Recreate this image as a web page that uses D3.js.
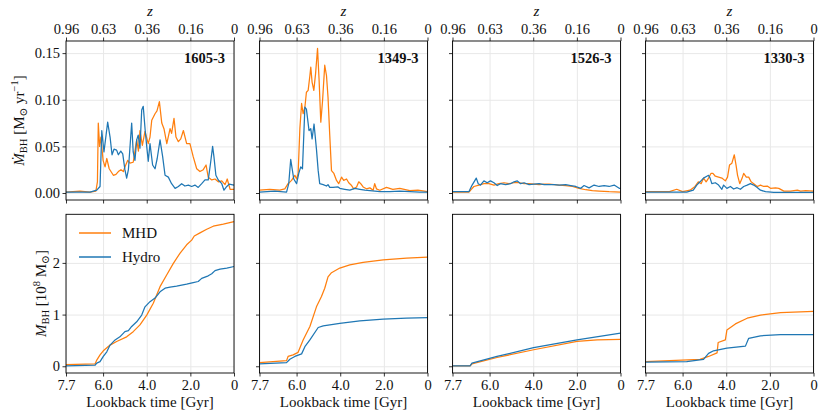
<!DOCTYPE html>
<html>
<head>
<meta charset="utf-8">
<script src="https://cdn.jsdelivr.net/npm/d3@7"></script>
<style>
  body { margin: 0; background: #fff; }
  svg text { font-family: "Liberation Serif", "DejaVu Serif", serif; fill: #111; }
</style>
</head>
<body>
<svg id="chart" width="830" height="415"></svg>
<script>
// ---- data ----
const haloNames = ['1605-3', '1349-3', '1526-3', '1330-3'];
const lookbackTicks = [7.7, 6, 4, 2, 0];
const lookbackLabels = ['7.7', '6.0', '4.0', '2.0', '0'];
const zLabels = ['0.96', '0.63', '0.36', '0.16', '0'];
const mdotTicks = [0, 0.05, 0.10, 0.15];
const mdotLabels = ['0.00', '0.05', '0.10', '0.15'];
const massTicks = [0, 1, 2];
const seriesNames = ['MHD', 'Hydro'];

// accretion rate [Msun/yr] as [lookback Gyr, value]
const mdot1605MHD = [[7.70,0.001],[7.06,0.002],[6.60,0.001],[6.33,0.002],[6.26,0.012],[6.22,0.075],[6.16,0.050],[6.10,0.060],[6.00,0.035],[5.91,0.028],[5.83,0.037],[5.72,0.026],[5.53,0.019],[5.41,0.020],[5.30,0.023],[5.18,0.025],[5.07,0.023],[5.00,0.028],[4.87,0.035],[4.77,0.032],[4.62,0.033],[4.46,0.057],[4.38,0.045],[4.31,0.067],[4.20,0.051],[4.08,0.066],[3.93,0.053],[3.85,0.060],[3.77,0.078],[3.62,0.085],[3.53,0.088],[3.42,0.098],[3.31,0.075],[3.21,0.069],[3.08,0.053],[2.93,0.069],[2.86,0.064],[2.75,0.080],[2.66,0.060],[2.55,0.055],[2.44,0.058],[2.32,0.067],[2.17,0.053],[2.02,0.053],[1.87,0.039],[1.71,0.026],[1.56,0.023],[1.41,0.025],[1.28,0.030],[1.18,0.017],[1.02,0.014],[0.87,0.015],[0.72,0.012],[0.56,0.013],[0.41,0.009],[0.31,0.015],[0.18,0.004],[0.00,0.004]];
const mdot1605Hydro = [[7.70,0.001],[6.60,0.001],[6.29,0.003],[6.14,0.007],[6.06,0.067],[5.96,0.044],[5.79,0.076],[5.68,0.060],[5.59,0.041],[5.50,0.047],[5.38,0.046],[5.30,0.041],[5.19,0.045],[5.10,0.042],[5.00,0.025],[4.92,0.016],[4.84,0.025],[4.69,0.075],[4.62,0.044],[4.54,0.035],[4.46,0.057],[4.39,0.062],[4.31,0.048],[4.23,0.089],[4.16,0.093],[4.07,0.067],[4.00,0.050],[3.93,0.034],[3.85,0.053],[3.73,0.030],[3.62,0.026],[3.52,0.037],[3.39,0.057],[3.27,0.039],[3.16,0.019],[3.01,0.017],[2.86,0.010],[2.70,0.005],[2.55,0.007],[2.40,0.010],[2.25,0.0075],[2.09,0.0085],[1.94,0.007],[1.79,0.0085],[1.64,0.006],[1.48,0.010],[1.33,0.014],[1.18,0.014],[1.07,0.033],[0.98,0.050],[0.92,0.039],[0.83,0.019],[0.72,0.014],[0.56,0.010],[0.46,0.003],[0.33,0.007],[0.22,0.0095],[0.00,0.0085]];
const mdot1349MHD = [[7.70,0.003],[7.23,0.004],[6.77,0.003],[6.54,0.0045],[6.39,0.010],[6.23,0.0135],[6.08,0.019],[6.00,0.015],[5.93,0.021],[5.85,0.069],[5.77,0.096],[5.70,0.085],[5.62,0.092],[5.55,0.108],[5.47,0.110],[5.39,0.126],[5.35,0.135],[5.29,0.119],[5.21,0.110],[5.13,0.128],[5.04,0.155],[4.97,0.122],[4.89,0.076],[4.81,0.099],[4.71,0.137],[4.63,0.126],[4.56,0.103],[4.48,0.062],[4.40,0.024],[4.29,0.021],[4.17,0.0135],[4.07,0.010],[3.94,0.017],[3.84,0.0135],[3.71,0.015],[3.61,0.011],[3.48,0.008],[3.38,0.0045],[3.25,0.0065],[3.15,0.012],[3.06,0.010],[2.95,0.0065],[2.80,0.0045],[2.64,0.0055],[2.49,0.003],[2.42,0.010],[2.34,0.0045],[2.19,0.003],[1.88,0.006],[1.59,0.004],[1.27,0.005],[0.81,0.0025],[0.44,0.003],[0.00,0.0015]];
const mdot1349Hydro = [[7.70,0.001],[7.00,0.002],[6.46,0.001],[6.36,0.010],[6.27,0.036],[6.13,0.015],[6.00,0.010],[5.90,0.021],[5.81,0.028],[5.73,0.026],[5.62,0.092],[5.55,0.090],[5.43,0.067],[5.35,0.069],[5.29,0.058],[5.20,0.074],[5.09,0.047],[5.01,0.024],[4.94,0.010],[4.78,0.009],[4.63,0.0075],[4.56,0.009],[4.48,0.006],[4.33,0.006],[4.10,0.0065],[4.02,0.005],[3.79,0.004],[3.56,0.003],[3.33,0.005],[3.10,0.004],[2.87,0.003],[2.64,0.0025],[2.18,0.0015],[1.73,0.0015],[1.27,0.002],[0.81,0.0015],[0.35,0.001],[0.00,0.001]];
const mdot1526MHD = [[7.70,0.001],[6.95,0.001],[6.87,0.003],[6.72,0.007],[6.49,0.0085],[6.26,0.010],[6.03,0.010],[5.80,0.0085],[5.57,0.010],[5.34,0.011],[5.11,0.010],[4.88,0.011],[4.65,0.011],[4.42,0.010],[4.19,0.010],[3.96,0.0095],[3.73,0.009],[3.50,0.0095],[3.27,0.0095],[3.04,0.009],[2.81,0.0085],[2.51,0.008],[2.20,0.007],[1.90,0.005],[1.59,0.0035],[1.29,0.0025],[0.98,0.002],[0.52,0.0014],[0.00,0.001]];
const mdot1526Hydro = [[7.70,0.0014],[6.95,0.0014],[6.80,0.0085],[6.61,0.016],[6.52,0.010],[6.42,0.0085],[6.26,0.013],[6.11,0.011],[5.96,0.013],[5.80,0.011],[5.65,0.008],[5.50,0.010],[5.27,0.009],[5.04,0.010],[4.88,0.012],[4.73,0.013],[4.58,0.010],[4.42,0.011],[4.19,0.009],[3.96,0.0095],[3.73,0.010],[3.50,0.009],[3.27,0.009],[3.04,0.009],[2.81,0.0085],[2.51,0.009],[2.28,0.008],[2.05,0.007],[1.82,0.005],[1.67,0.008],[1.44,0.0055],[1.21,0.0085],[0.98,0.007],[0.75,0.008],[0.52,0.007],[0.29,0.0085],[0.06,0.005],[0.00,0.005]];
const mdot1330MHD = [[7.70,0.0014],[6.60,0.0014],[6.27,0.004],[6.00,0.0015],[5.66,0.003],[5.43,0.007],[5.28,0.012],[5.15,0.010],[5.04,0.016],[4.92,0.012],[4.81,0.016],[4.70,0.021],[4.61,0.021],[4.50,0.018],[4.35,0.017],[4.20,0.016],[4.04,0.013],[3.94,0.017],[3.85,0.030],[3.74,0.032],[3.63,0.041],[3.55,0.030],[3.48,0.019],[3.38,0.010],[3.27,0.016],[3.20,0.021],[3.08,0.017],[2.97,0.017],[2.86,0.012],[2.74,0.010],[2.58,0.007],[2.43,0.0085],[2.28,0.007],[2.12,0.0075],[1.97,0.005],[1.74,0.0055],[1.59,0.005],[1.36,0.002],[1.05,0.002],[0.74,0.003],[0.59,0.002],[0.36,0.0025],[0.00,0.002]];
const mdot1330Hydro = [[7.70,0.001],[5.81,0.001],[5.51,0.003],[5.35,0.0085],[5.20,0.012],[5.04,0.016],[4.89,0.018],[4.81,0.019],[4.74,0.016],[4.66,0.010],[4.50,0.011],[4.35,0.0085],[4.20,0.004],[4.12,0.0085],[3.97,0.005],[3.81,0.007],[3.66,0.0043],[3.50,0.0057],[3.35,0.004],[3.20,0.007],[3.04,0.0085],[2.89,0.010],[2.74,0.0085],[2.58,0.006],[2.43,0.003],[2.20,0.0014],[1.82,0.0008],[1.05,0.0008],[0.00,0.0008]];

// black hole mass [1e8 Msun] as [lookback Gyr, value]
const mass1605MHD = [[7.70,0.03],[6.37,0.045],[6.29,0.12],[6.14,0.22],[5.99,0.30],[5.68,0.41],[5.38,0.48],[4.92,0.57],[4.62,0.67],[4.31,0.80],[4.00,0.99],[3.70,1.22],[3.39,1.54],[3.08,1.77],[2.78,1.99],[2.47,2.19],[2.17,2.35],[1.94,2.44],[1.82,2.52],[1.56,2.58],[1.25,2.65],[0.95,2.71],[0.49,2.75],[0.00,2.80]];
const mass1605Hydro = [[7.70,0.01],[6.37,0.02],[6.29,0.06],[6.14,0.09],[5.99,0.19],[5.83,0.28],[5.68,0.41],[5.45,0.51],[5.23,0.57],[5.00,0.67],[4.84,0.69],[4.69,0.77],[4.46,0.86],[4.23,0.99],[4.08,1.15],[3.85,1.25],[3.62,1.32],[3.39,1.44],[3.16,1.51],[2.93,1.53],[2.63,1.55],[2.17,1.59],[1.87,1.62],[1.64,1.64],[1.48,1.70],[1.18,1.75],[1.02,1.79],[0.87,1.85],[0.64,1.88],[0.33,1.90],[0.00,1.93]];
const mass1349MHD = [[7.70,0.07],[6.46,0.11],[6.39,0.19],[6.16,0.22],[5.93,0.27],[5.70,0.51],[5.39,0.77],[5.09,1.15],[4.86,1.35],[4.71,1.51],[4.56,1.73],[4.40,1.81],[4.02,1.90],[3.56,1.96],[2.95,2.01],[2.03,2.06],[0.96,2.09],[0.00,2.11]];
const mass1349Hydro = [[7.70,0.045],[6.46,0.07],[6.31,0.135],[6.08,0.19],[5.77,0.24],[5.62,0.38],[5.39,0.51],[5.01,0.75],[4.78,0.78],[4.02,0.83],[3.10,0.88],[2.03,0.91],[0.96,0.93],[0.00,0.94]];
const mass1526MHD = [[7.70,0.01],[6.89,0.01],[6.81,0.045],[5.66,0.17],[3.98,0.32],[1.99,0.48],[1.07,0.51],[0.00,0.52]];
const mass1526Hydro = [[7.70,0.01],[6.89,0.01],[6.81,0.06],[5.66,0.19],[3.98,0.36],[1.99,0.51],[0.00,0.64]];
const mass1330MHD = [[7.70,0.09],[5.20,0.135],[4.81,0.19],[4.42,0.26],[4.37,0.46],[4.04,0.51],[3.97,0.70],[3.58,0.82],[3.04,0.93],[2.43,0.99],[1.51,1.04],[0.00,1.06]];
const mass1330Hydro = [[7.70,0.08],[5.81,0.09],[5.04,0.135],[4.81,0.25],[4.58,0.30],[3.97,0.35],[3.12,0.39],[2.97,0.54],[2.43,0.59],[1.51,0.61],[0.00,0.61]];

const mdotMHD = [mdot1605MHD, mdot1349MHD, mdot1526MHD, mdot1330MHD];
const mdotHydro = [mdot1605Hydro, mdot1349Hydro, mdot1526Hydro, mdot1330Hydro];
const massMHD = [mass1605MHD, mass1349MHD, mass1526MHD, mass1330MHD];
const massHydro = [mass1605Hydro, mass1349Hydro, mass1526Hydro, mass1330Hydro];

// ---- layout ----
const svg = d3.select('#chart');
const colLeft = [66, 259.5, 452.5, 645.5];
const W = 168;
const rows = [
  {top: 41, bottom: 200, domain: [-0.0075, 0.163], ticks: mdotTicks, labels: mdotLabels, mhd: mdotMHD, hydro: mdotHydro},
  {top: 214.3, bottom: 373, domain: [-0.13, 2.94], ticks: massTicks, labels: massTicks.map(String), mhd: massMHD, hydro: massHydro}
];
const colors = {MHD: '#ff7f0e', Hydro: '#1f77b4'};
const gridColor = '#e8e8e8';
const tickFont = 14.5;

function styleAxis(g, showLabels){
  g.select('.domain').remove();
  g.selectAll('.tick line').attr('stroke', '#000').attr('stroke-width', 0.8);
  g.selectAll('.tick text').attr('font-size', tickFont).attr('fill', '#111')
    .attr('font-family', '"Liberation Serif", "DejaVu Serif", serif');
  if(!showLabels) g.selectAll('.tick text').remove();
}

function styleGrid(g){
  g.select('.domain').remove();
  g.selectAll('.tick text').remove();
  g.selectAll('line').attr('stroke', gridColor).attr('stroke-width', 1);
}

colLeft.forEach((left, i) => {
  const x = d3.scaleLinear().domain([7.7, 0]).range([left, left + W]);

  rows.forEach((r, ri) => {
    const y = d3.scaleLinear().domain(r.domain).range([r.bottom, r.top]);
    const h = r.bottom - r.top;
    const g = svg.append('g');

    // grid
    styleGrid(g.append('g').attr('transform', `translate(0,${r.bottom})`)
      .call(d3.axisBottom(x).tickValues(lookbackTicks).tickSize(-h)));
    styleGrid(g.append('g').attr('transform', `translate(${left},0)`)
      .call(d3.axisLeft(y).tickValues(r.ticks).tickSize(-W)));

    // lines: MHD first, Hydro on top
    const line = d3.line().x(d => x(d[0])).y(d => y(d[1]));
    g.append('path').datum(r.mhd[i]).attr('d', line)
      .attr('fill', 'none').attr('stroke', colors.MHD).attr('stroke-width', 1.25).attr('stroke-linejoin', 'round');
    g.append('path').datum(r.hydro[i]).attr('d', line)
      .attr('fill', 'none').attr('stroke', colors.Hydro).attr('stroke-width', 1.25).attr('stroke-linejoin', 'round');

    // spines
    g.append('rect').attr('x', left).attr('y', r.top).attr('width', W).attr('height', h)
      .attr('fill', 'none').attr('stroke', '#000').attr('stroke-width', 0.9);

    // left axis (labels only in first column)
    const ay = g.append('g').attr('transform', `translate(${left},0)`)
      .call(d3.axisLeft(y).tickValues(r.ticks).tickSize(3.5).tickPadding(2.5)
        .tickFormat((d, j) => r.labels[j]));
    styleAxis(ay, i === 0);

    // bottom axis
    const ab = g.append('g').attr('transform', `translate(0,${r.bottom})`)
      .call(d3.axisBottom(x).tickValues(lookbackTicks).tickSize(3.5).tickPadding(3)
        .tickFormat((d, j) => lookbackLabels[j]));
    styleAxis(ab, ri === 1);

    if(ri === 0){
      // redshift axis on top
      const at = g.append('g').attr('transform', `translate(0,${r.top})`)
        .call(d3.axisTop(x).tickValues(lookbackTicks).tickSize(3.5).tickPadding(3.5)
          .tickFormat((d, j) => zLabels[j]));
      styleAxis(at, true);
      g.append('text').attr('x', left + W / 2).attr('y', 16).attr('text-anchor', 'middle')
        .attr('font-size', 15).attr('font-style', 'italic').text('z');
      g.append('text').attr('x', left + W - 9).attr('y', 63).attr('text-anchor', 'end')
        .attr('font-size', 14.5).attr('font-weight', 'bold').text(haloNames[i]);
    } else {
      g.append('text').attr('x', left + W / 2).attr('y', 406.5).attr('text-anchor', 'middle')
        .attr('font-size', 15).text('Lookback time [Gyr]');
    }
  });
});

// y labels
const yl1 = svg.append('text').attr('transform', 'translate(24,120.5) rotate(-90)')
  .attr('text-anchor', 'middle').attr('font-size', 15);
yl1.append('tspan').attr('font-style', 'italic').text('M\u0307');
yl1.append('tspan').attr('font-size', 10.5).attr('dy', 3).text('BH');
yl1.append('tspan').attr('dy', -3).text(' [M');
yl1.append('tspan').attr('font-size', 10.5).attr('dy', 3).text('\u2299');
yl1.append('tspan').attr('dy', -3).text(' yr');
yl1.append('tspan').attr('font-size', 10.5).attr('dy', -6).text('\u22121');
yl1.append('tspan').attr('dy', 6).text(']');

const yl2 = svg.append('text').attr('transform', 'translate(46,293.6) rotate(-90)')
  .attr('text-anchor', 'middle').attr('font-size', 15);
yl2.append('tspan').attr('font-style', 'italic').text('M');
yl2.append('tspan').attr('font-size', 10.5).attr('dy', 3).text('BH');
yl2.append('tspan').attr('dy', -3).text(' [10');
yl2.append('tspan').attr('font-size', 10.5).attr('dy', -6).text('8');
yl2.append('tspan').attr('dy', 6).text(' M');
yl2.append('tspan').attr('font-size', 10.5).attr('dy', 3).text('\u2299');
yl2.append('tspan').attr('dy', -3).text(']');

// legend in first mass panel
const legend = svg.append('g');
seriesNames.forEach((s, k) => {
  const ly = 233 + k * 24;
  legend.append('line').attr('x1', 79).attr('x2', 111).attr('y1', ly).attr('y2', ly)
    .attr('stroke', colors[s]).attr('stroke-width', 1.5);
  legend.append('text').attr('x', 122).attr('y', ly + 5).attr('font-size', 15).text(s);
});
</script>
</body>
</html>
